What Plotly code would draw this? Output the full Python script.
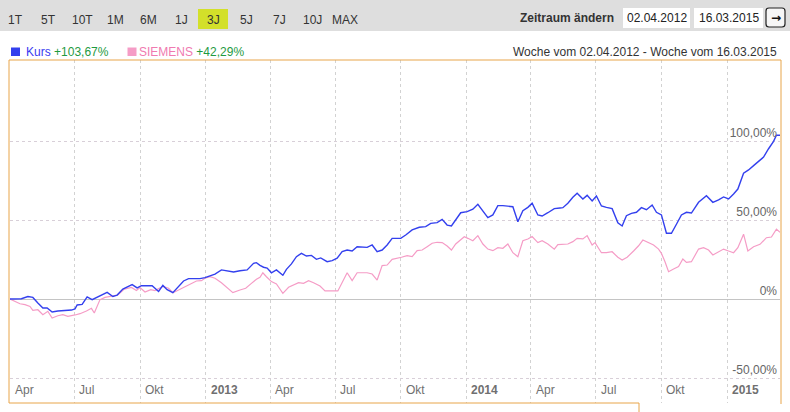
import plotly.graph_objects as go
import pandas as pd

# ---------------- data ----------------
start_date = "2012-04-02"
end_date = "2015-03-16"

kurs_days = [0, 7, 16, 25, 32, 39, 46, 52, 59, 67,
             77, 86, 91, 94, 101, 108, 115, 123, 136, 144,
             150, 158, 171, 178, 184, 199, 203, 208, 214, 220,
             228, 236, 243, 250, 266, 273, 280, 287, 296, 306,
             313, 322, 332, 341, 345, 350, 355, 360, 366, 373,
             382, 387, 394, 401, 408, 415, 422, 429, 435, 444,
             451, 458, 465, 472, 479, 486, 493, 500, 507, 514,
             521, 528, 535, 547, 554, 563, 573, 582, 589, 598,
             605, 612, 618, 624, 631, 640, 648, 655, 662, 669,
             676, 683, 690, 697, 704, 711, 718, 725, 731, 739,
             745, 753, 762, 770, 774, 781, 788, 794, 802, 808,
             815, 821, 828, 835, 843, 851, 857, 863, 870, 877,
             884, 891, 899, 905, 912, 919, 926, 933, 940, 947,
             954, 964, 975, 984, 992, 999, 1006, 1013, 1019, 1027,
             1034, 1041, 1048, 1055, 1062, 1069, 1073, 1078]
kurs_pct = [0, 0.2, 0.2, 1.6, 1.0, -2.5, -5.7, -5.7, -8.2, -7.6,
            -7.2, -7.0, -6.3, -3.8, -3.4, 1.3, -0.4, 1.3, 4.2, 1.6,
            2.5, 6.3, 9.1, 7.0, 8.4, 8.4, 7.0, 4.8, 8.6, 5.9,
            4.0, 8.2, 11.4, 12.9, 12.9, 13.5, 14.6, 15.8, 18.4, 17.9,
            17.1, 17.9, 18.4, 22.6, 23.0, 21.3, 20.1, 19.6, 16.6, 18.4,
            15.0, 18.8, 22.2, 26.8, 28.9, 27.2, 27.6, 25.1, 26.0, 23.6,
            24.3, 25.8, 30.0, 31.0, 30.4, 33.1, 32.7, 32.7, 34.2, 30.0,
            31.0, 34.2, 38.4, 38.4, 40.5, 43.7, 45.4, 45.8, 47.9, 48.3,
            50.4, 46.8, 46.2, 50.4, 54.6, 55.3, 56.8, 59.9, 55.9, 51.5,
            53.2, 59.1, 59.1, 58.9, 58.4, 48.9, 55.9, 58.0, 60.6, 53.2,
            52.5, 54.6, 57.2, 57.6, 57.8, 60.6, 64.4, 66.9, 63.3, 65.6,
            62.0, 65.2, 58.9, 58.0, 57.2, 48.3, 46.2, 52.7, 54.2, 54.9,
            57.8, 56.5, 59.5, 54.9, 53.2, 41.6, 41.6, 47.3, 53.2, 54.9,
            54.4, 61.2, 65.4, 61.2, 62.7, 64.6, 63.3, 66.5, 69.6, 79.6,
            81.7, 84.4, 87.0, 89.8, 95.1, 99.8, 103.6, 103.67]

siemens_days = [0, 7, 14, 21, 28, 32, 39, 46, 53, 59,
                67, 74, 81, 91, 98, 107, 114, 118, 126, 133,
                143, 151, 160, 170, 177, 182, 189, 197, 203, 208,
                214, 222, 228, 236, 245, 254, 261, 268, 273, 280,
                287, 296, 303, 312, 322, 330, 338, 345, 350, 354,
                359, 366, 373, 382, 390, 397, 404, 411, 418, 425,
                434, 441, 459, 472, 479, 486, 500, 507, 514, 521,
                528, 535, 542, 548, 556, 563, 570, 577, 584, 591,
                598, 605, 612, 618, 624, 631, 636, 641, 648, 655,
                662, 669, 676, 683, 690, 697, 704, 711, 718, 725,
                731, 739, 745, 753, 762, 767, 774, 781, 788, 794,
                802, 808, 815, 819, 828, 835, 843, 851, 857, 864,
                873, 880, 886, 894, 901, 908, 912, 917, 922, 929,
                936, 942, 947, 954, 964, 971, 978, 984, 992, 999,
                1006, 1013, 1019, 1027, 1033, 1041, 1050, 1059, 1066, 1073,
                1078]
siemens_pct = [0, -1.5, -3.0, -3.6, -4.7, -7.2, -6.8, -9.9, -7.8, -12.0,
               -10.6, -9.9, -11.0, -10.1, -9.3, -7.6, -5.9, -8.9, -0.4, 1.0,
               1.6, 2.5, 6.3, 7.3, 5.4, 7.3, 4.4, 5.9, 5.3, 6.3,
               8.0, 6.8, 4.0, 5.7, 7.8, 10.3, 11.4, 11.6, 13.1, 14.1,
               13.1, 10.3, 7.4, 4.0, 5.7, 6.8, 9.9, 12.5, 13.7, 16.6,
               14.1, 11.0, 9.5, 3.6, 7.4, 8.9, 10.3, 9.9, 11.6, 10.3,
               8.2, 5.1, 5.1, 16.6, 11.6, 16.6, 16.6, 15.8, 12.0, 21.1,
               21.5, 25.1, 25.7, 26.4, 27.4, 26.8, 30.6, 31.0, 33.1, 35.3,
               35.9, 35.7, 33.5, 31.0, 34.8, 37.7, 39.4, 38.4, 36.9, 40.1,
               34.8, 31.6, 30.6, 32.5, 32.1, 34.8, 29.3, 26.8, 36.9, 38.0,
               39.5, 35.7, 36.9, 34.8, 31.5, 34.4, 34.8, 34.8, 36.3, 38.4,
               38.0, 40.1, 34.2, 35.7, 29.3, 29.3, 29.9, 26.4, 24.7, 26.4,
               30.4, 33.7, 37.3, 35.9, 34.2, 31.6, 28.9, 23.6, 17.3, 19.0,
               20.5, 25.3, 23.2, 23.6, 31.6, 32.5, 31.0, 27.9, 29.6, 31.6,
               30.4, 29.3, 32.5, 41.0, 30.4, 33.1, 34.6, 38.8, 39.2, 44.2,
               42.29]

series_names = ["Kurs", "SIEMENS"]
range_buttons = ["1T", "5T", "10T", "1M", "6M", "1J", "3J", "5J", "7J", "10J", "MAX"]
active_button = "3J"
x_label_dates = ["2012-04-02", "2012-07-01", "2012-10-01", "2013-01-01", "2013-04-01",
                 "2013-07-01", "2013-10-01", "2014-01-01", "2014-04-01", "2014-07-01",
                 "2014-10-01", "2015-01-01"]
x_label_text = ["Apr", "Jul", "Okt", "2013", "Apr", "Jul", "Okt", "2014", "Apr", "Jul", "Okt", "2015"]
y_tick_vals = [-50, 0, 50, 100]
y_tick_text = ["-50,00%", "0%", "50,00%", "100,00%"]
period_from = "02.04.2012"
period_to = "16.03.2015"

# ---------------- layout helpers ----------------
W, H = 790, 412
FONT = "Liberation Sans, Arial, sans-serif"


def px(x):
    return x / W


def py(y):
    return 1 - y / H


def de_pct(v):
    return ("%+.2f%%" % v).replace(".", ",")


start = pd.Timestamp(start_date)
kurs_x = [start + pd.Timedelta(days=d) for d in kurs_days]
siemens_x = [start + pd.Timedelta(days=d) for d in siemens_days]

BLUE = "#3340ee"
PINK = "#f59cc6"
GREEN = "#1f9a3f"
ORANGE = "#e8a54a"

fig = go.Figure()
fig.add_trace(go.Scatter(x=siemens_x, y=siemens_pct, mode="lines", name=series_names[1],
                         line=dict(color=PINK, width=1.2)))
fig.add_trace(go.Scatter(x=kurs_x, y=kurs_pct, mode="lines", name=series_names[0],
                         line=dict(color=BLUE, width=1.4)))

# plot area: pixel rows 60..403, data 0% at row 299, 79 px per 50 %
top_px, bot_px, zero_px, per50 = 60, 403, 299, 79
y_top = (zero_px - top_px) / per50 * 50
y_bot = -(bot_px - zero_px) / per50 * 50

fig.update_layout(
    width=W, height=H,
    margin=dict(l=0, r=0, t=0, b=0),
    paper_bgcolor="white", plot_bgcolor="white",
    showlegend=False,
    font=dict(family=FONT, size=12, color="#666666"),
    xaxis=dict(
        domain=[px(10), px(780)],
        range=[start_date, end_date],
        type="date",
        tickvals=x_label_dates[1:],
        showticklabels=False,
        showgrid=True, gridcolor="#d2d2d2", griddash="dot", gridwidth=1,
        zeroline=False, showline=False, ticks="",
        fixedrange=True,
    ),
    yaxis=dict(
        domain=[py(bot_px), py(top_px)],
        range=[y_bot, y_top],
        side="right",
        tickvals=y_tick_vals,
        ticktext=y_tick_text,
        ticklabelposition="inside top",
        tickfont=dict(family=FONT, size=12, color="#666666"),
        showgrid=True, gridcolor="#d8cfd8", griddash="dot", gridwidth=1,
        zeroline=True, zerolinecolor="#c4c4c4", zerolinewidth=1,
        showline=False, ticks="",
        fixedrange=True,
    ),
)

shapes = []
annotations = []

# toolbar
shapes.append(dict(type="rect", xref="paper", yref="paper", x0=0, x1=1, y0=py(31), y1=py(0),
                   fillcolor="#dedede", line=dict(width=0), layer="above"))
btn_centers = [15.5, 48, 82.5, 115, 148, 181, 213.5, 246.5, 279.5, 312.5, 345]
for lab, cx in zip(range_buttons, btn_centers):
    if lab == active_button:
        shapes.append(dict(type="rect", xref="paper", yref="paper", x0=px(198), x1=px(228),
                           y0=py(29), y1=py(9), fillcolor="#d3e02a", line=dict(width=0), layer="above"))
    annotations.append(dict(text=lab, x=px(cx), y=py(20), xref="paper", yref="paper",
                            xanchor="center", yanchor="middle", showarrow=False,
                            font=dict(family=FONT, size=12, color="#333333")))

annotations.append(dict(text="<b>Zeitraum ändern</b>", x=px(616), y=py(18), xref="paper", yref="paper",
                        xanchor="right", yanchor="middle", showarrow=False,
                        font=dict(family=FONT, size=12, color="#333333")))
for (x0, x1), txt in zip([(623, 690), (694, 763)], [period_from, period_to]):
    shapes.append(dict(type="rect", xref="paper", yref="paper", x0=px(x0), x1=px(x1),
                       y0=py(28), y1=py(8), fillcolor="white", line=dict(width=0), layer="above"))
    annotations.append(dict(text=txt, x=px((x0 + x1) / 2), y=py(18), xref="paper", yref="paper",
                            xanchor="center", yanchor="middle", showarrow=False,
                            font=dict(family=FONT, size=12, color="#222222")))
# arrow button (rounded)
bx0, bx1, by0, by1, r = px(766), px(785), py(27), py(8), 3
rx, ry = r / W, r / H
path = (f"M {bx0+rx},{by1} L {bx1-rx},{by1} Q {bx1},{by1} {bx1},{by1-ry} "
        f"L {bx1},{by0+ry} Q {bx1},{by0} {bx1-rx},{by0} L {bx0+rx},{by0} "
        f"Q {bx0},{by0} {bx0},{by0+ry} L {bx0},{by1-ry} Q {bx0},{by1} {bx0+rx},{by1} Z")
shapes.append(dict(type="path", path=path, xref="paper", yref="paper", fillcolor="#f6f6f6",
                   line=dict(color="#222222", width=1.2), layer="above"))
annotations.append(dict(text="<b>→</b>", x=px(775.5), y=py(17.5), xref="paper", yref="paper",
                        xanchor="center", yanchor="middle", showarrow=False,
                        font=dict(family="DejaVu Sans", size=12, color="#111111")))

# legend row
leg = [(series_names[0], kurs_pct[-1], BLUE, "#3a3af0", 11, 24),
       (series_names[1], siemens_pct[-1], PINK, "#f07ab0", 127.5, 137)]
for name, last, sq, tc, sx, tx in leg:
    shapes.append(dict(type="rect", xref="paper", yref="paper", x0=px(sx), x1=px(sx + 9),
                       y0=py(56), y1=py(47.5), fillcolor=sq, line=dict(width=0), layer="above"))
    annotations.append(dict(text=f"<span style='color:{tc}'>{name}</span> "
                                 f"<span style='color:{GREEN}'>{de_pct(last)}</span>",
                            x=px(tx), y=py(52), xref="paper", yref="paper",
                            xanchor="left", yanchor="middle", showarrow=False,
                            font=dict(family=FONT, size=12)))
annotations.append(dict(text=f"Woche vom {period_from} - Woche vom {period_to}",
                        x=px(779), y=py(51.5), xref="paper", yref="paper",
                        xanchor="right", yanchor="middle", showarrow=False,
                        font=dict(family=FONT, size=12, color="#333333")))

# x labels (left aligned after gridlines)
for d, t in zip(x_label_dates, x_label_text):
    bold = t.isdigit()
    annotations.append(dict(text=f"<b>{t}</b>" if bold else t, x=d, y=py(390), xref="x", yref="paper",
                            xanchor="left", yanchor="middle", xshift=3, showarrow=False,
                            font=dict(family=FONT, size=12, color="#707070")))

# orange frame
for x0, y0, x1, y1 in [(9, 60, 781, 60), (9, 60, 9, 403), (9, 403, 639, 403),
                       (639, 403, 639, 412), (781, 60, 781, 404)]:
    shapes.append(dict(type="line", xref="paper", yref="paper", x0=px(x0), y0=py(y0), x1=px(x1), y1=py(y1),
                       line=dict(color=ORANGE, width=1), layer="above"))

fig.update_layout(shapes=shapes, annotations=annotations)
fig.write_html("out.html")
